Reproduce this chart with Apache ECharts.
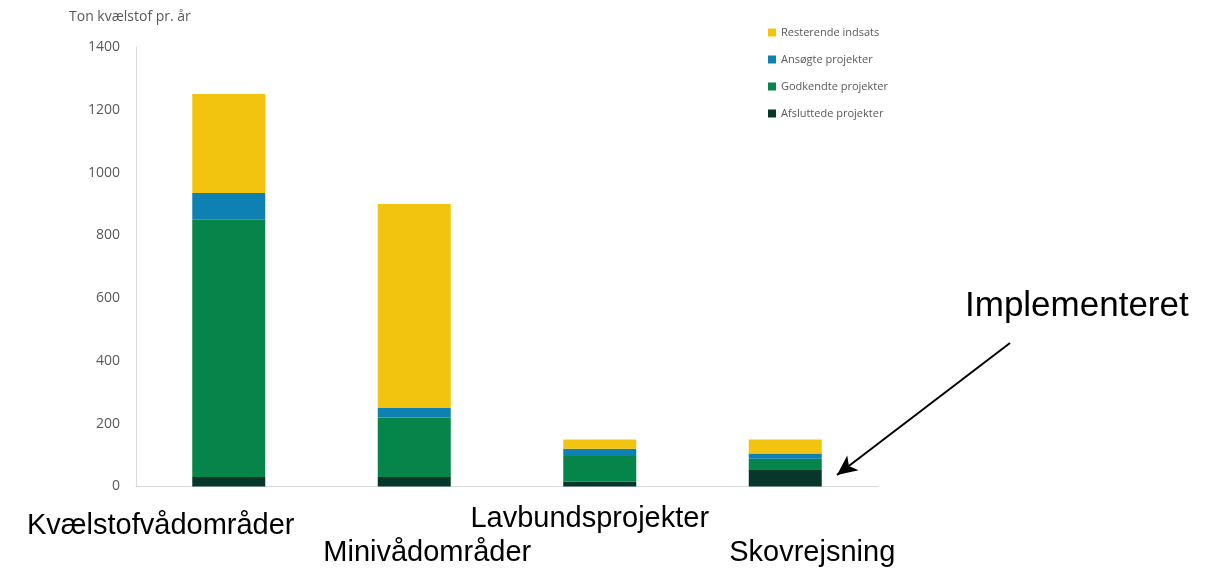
<!DOCTYPE html>
<html>
<head>
<meta charset="utf-8">
<script src="https://cdn.jsdelivr.net/npm/echarts@6/dist/echarts.min.js"></script>
<style>
  html, body { margin: 0; padding: 0; background: #ffffff; }
  #chart { width: 1226px; height: 571px; }
</style>
</head>
<body>
<div id="chart"></div>
<script>
// Kvælstofindsats pr. virkemiddel (ton kvælstof pr. år)
const categories = ['Kvælstofvådområder', 'Minivådområder', 'Lavbundsprojekter', 'Skovrejsning'];
const afsluttede = [30, 30, 15, 55];
const godkendte  = [820, 190, 82, 33];
const ansoegte   = [85, 30, 23, 17];
const resterende = [315, 650, 30, 45];
const yTicks = [0, 200, 400, 600, 800, 1000, 1200, 1400];

// staggered category captions: horizontal and vertical shift per label (px)
const captionShiftX = [-68, 13, -10, 27];
const captionShiftY = [7, 34, 0, 34];

const rich = {};
categories.forEach((c, i) => {
  const dx = captionShiftX[i];
  rich['c' + i] = {
    fontFamily: 'Liberation Sans, Arial, sans-serif',
    fontSize: 29,
    lineHeight: 29,
    color: '#000000',
    padding: [2 * captionShiftY[i], dx < 0 ? -2 * dx : 0, 0, dx > 0 ? 2 * dx : 0]
  };
});

const chart = echarts.init(document.getElementById('chart'));
const barW = 73;
const seriesDefs = [
  { name: 'Afsluttede projekter', data: afsluttede, color: '#07362A' },
  { name: 'Godkendte projekter', data: godkendte, color: '#058549' },
  { name: 'Ansøgte projekter', data: ansoegte, color: '#0E80B2' },
  { name: 'Resterende indsats', data: resterende, color: '#F2C40F' }
];

chart.setOption({
  animation: false,
  backgroundColor: '#ffffff',
  title: {
    text: 'Ton kvælstof pr. år',
    left: 64, top: 5,
    textStyle: { fontFamily: 'Open Sans, sans-serif', fontSize: 14, fontWeight: 'normal', color: '#595959' }
  },
  legend: {
    orient: 'vertical',
    left: 763, top: 22,
    itemWidth: 8, itemHeight: 8, itemGap: 16,
    icon: 'rect',
    data: ['Resterende indsats', 'Ansøgte projekter', 'Godkendte projekter', 'Afsluttede projekter'],
    textStyle: { fontFamily: 'Open Sans, sans-serif', fontSize: 11, color: '#595959' }
  },
  grid: { left: 136, right: 348, top: 47, bottom: 84.5, containLabel: false },
  xAxis: {
    type: 'category',
    data: categories,
    axisLine: { lineStyle: { color: '#d9d9d9', width: 1 } },
    axisTick: { show: false },
    axisLabel: {
      interval: 0,
      margin: 18,
      verticalAlign: 'top',
      formatter: (v, i) => '{c' + i + '|' + v + '}',
      rich: rich
    }
  },
  yAxis: {
    type: 'value',
    min: yTicks[0],
    max: yTicks[yTicks.length - 1],
    interval: yTicks[1] - yTicks[0],
    axisLine: { show: true, lineStyle: { color: '#d9d9d9', width: 1 } },
    axisTick: { show: false },
    splitLine: { show: false },
    axisLabel: {
      margin: 16,
      fontFamily: 'Open Sans, sans-serif',
      fontSize: 14,
      color: '#595959',
      formatter: v => String(v)
    }
  },
  series: seriesDefs.map((s, idx) => {
    const o = {
      name: s.name,
      type: 'bar',
      stack: 'total',
      barWidth: barW,
      data: s.data,
      itemStyle: { color: s.color },
      emphasis: { disabled: true }
    };
    if (idx === 0) {
      o.markLine = {
        silent: true,
        symbol: ['none', 'arrow'],
        symbolSize: [14, 20],
        label: { show: false },
        lineStyle: { color: '#000000', width: 2, type: 'solid' },
        data: [[{ x: 1010, y: 343 }, { x: 837, y: 475 }]]
      };
    }
    return o;
  }),
  graphic: [{
    type: 'text',
    left: 965, top: 289,
    style: {
      text: 'Implementeret',
      fontFamily: 'Liberation Sans, Arial, sans-serif',
      fontSize: 35,
      fill: '#000000'
    }
  }]
});
</script>
</body>
</html>
